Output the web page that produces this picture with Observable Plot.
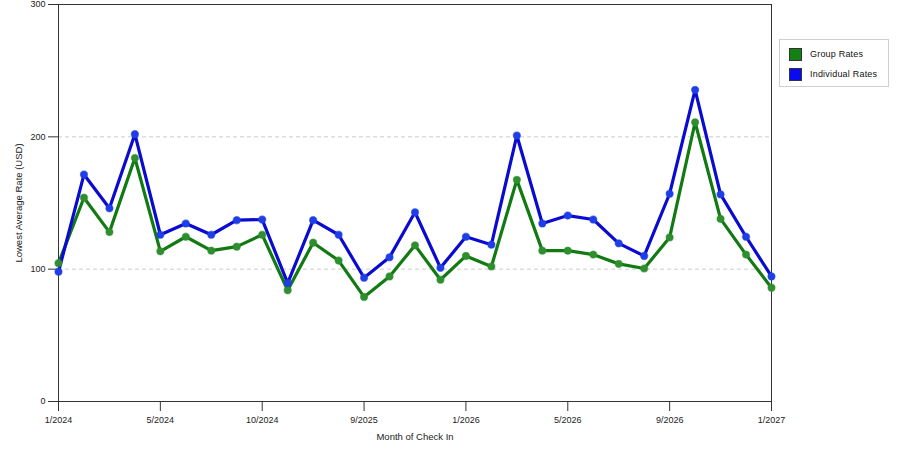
<!DOCTYPE html>
<html>
<head>
<meta charset="utf-8">
<script src="https://cdn.jsdelivr.net/npm/d3@7"></script>
<script src="https://cdn.jsdelivr.net/npm/@observablehq/plot@0.6"></script>
<style>
  html, body { margin: 0; padding: 0; background: #fff; }
  #wrap { position: relative; width: 900px; height: 450px; font-family: "Liberation Sans", Arial, sans-serif; }
  #legend { position: absolute; left: 779px; top: 39px; width: 108px; height: 46px; border: 1px solid #cfcfcf; background: #fff; }
  .item { position: absolute; left: 9px; height: 13px; font-size: 9px; color: #111; line-height: 13px; }
  .sw { position: absolute; left: 0; top: 0; width: 11px; height: 11px; border: 1px solid #333; }
  .lab { position: absolute; left: 21px; top: 0; white-space: nowrap; letter-spacing: 0.2px; }
</style>
</head>
<body>
<div id="wrap"></div>
<script>
const months = [
  "1/2024","2/2024","3/2024","4/2024","5/2024","6/2024","7/2024","8/2024",
  "10/2024","11/2024","12/2024","8/2025","9/2025","10/2025","11/2025","12/2025",
  "1/2026","2/2026","3/2026","4/2026","5/2026","6/2026","7/2026","8/2026",
  "9/2026","10/2026","11/2026","12/2026","1/2027"
];
const tickLabels = ["1/2024","5/2024","10/2024","9/2025","1/2026","5/2026","9/2026","1/2027"];
const groupRates = [104.5,154,128,184,113.5,124.5,114,117,126,84,120,106.5,79,94.5,118,92,
  110,102,167.5,114,114,111,104,100.5,124,211,138,111,86];
const individualRates = [98,171.5,146,202,126,134.5,126,137,137.5,89.5,137,126,93.5,109,143,101,
  124.5,118.5,201,134.5,140.5,137.5,119.5,110,157,235.5,156.5,124.5,94.5];
const seriesNames = ["Group Rates","Individual Rates"];
const lineColors = ["#127a12","#0a0ad0"];
const dotColors = ["#2f8f2f","#1f3fe6"];
const swatchColors = ["#138013","#0a0af0"];
const yTicks = [0,100,200,300];
const gridTicks = [100,200];
const yTitle = "Lowest Average Rate (USD)";
const xTitle = "Month of Check In";

const rows = [];
[groupRates, individualRates].forEach((vals, s) => {
  vals.forEach((v, i) => rows.push({month: months[i], value: v, series: seriesNames[s]}));
});

const chart = Plot.plot({
  width: 900,
  height: 450,
  marginLeft: 58,
  marginRight: 129,
  marginTop: 4,
  marginBottom: 49,
  style: {fontFamily: "'Liberation Sans', Arial, sans-serif", fontSize: "9px", color: "#222", background: "#fff"},
  x: {type: "point", domain: months, padding: 0, round: false, label: null},
  y: {domain: [0, 300], label: null},
  color: {domain: seriesNames, range: lineColors},
  marks: [
    Plot.ruleY(gridTicks, {stroke: "#cccccc", strokeDasharray: "4,3", strokeWidth: 1}),
    Plot.frame({stroke: "#333"}),
    Plot.axisY({ticks: yTicks, tickSize: 10, tickPadding: 3, stroke: "#333", label: null, fill: "#222"}),
    Plot.axisX({ticks: tickLabels, tickSize: 10, tickPadding: 5, stroke: "#333", label: null, fill: "#222"}),
    Plot.text([yTitle], {frameAnchor: "left", dx: -40, rotate: -90, textAnchor: "middle", fill: "#222", fontSize: 9.5, text: d => d}),
    Plot.text([xTitle], {frameAnchor: "bottom", dy: 38, textAnchor: "middle", fill: "#222", fontSize: 9.5, text: d => d}),
    Plot.line(rows, {x: "month", y: "value", z: "series", stroke: "series", strokeWidth: 3.2, strokeLinejoin: "miter"}),
    Plot.dot(rows, {x: "month", y: "value", r: 3.6, fill: d => dotColors[seriesNames.indexOf(d.series)], stroke: d => dotColors[seriesNames.indexOf(d.series)], strokeOpacity: 0.5, strokeWidth: 1.2})
  ]
});

const wrap = document.getElementById("wrap");
wrap.appendChild(chart);

const legend = document.createElement("div");
legend.id = "legend";
seriesNames.forEach((name, i) => {
  const item = document.createElement("div");
  item.className = "item";
  item.style.top = (8 + i * 20) + "px";
  const sw = document.createElement("div");
  sw.className = "sw";
  sw.style.background = swatchColors[i];
  const lab = document.createElement("div");
  lab.className = "lab";
  lab.textContent = name;
  item.appendChild(sw);
  item.appendChild(lab);
  legend.appendChild(item);
});
wrap.appendChild(legend);
</script>
</body>
</html>
